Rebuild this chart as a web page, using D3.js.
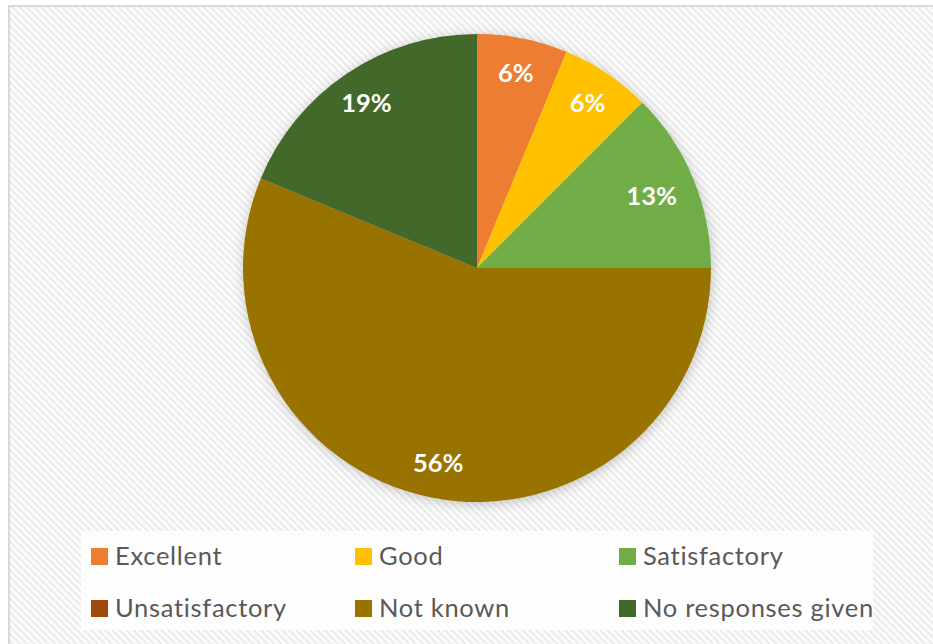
<!DOCTYPE html>
<html>
<head>
<meta charset="utf-8">
<script src="https://cdn.jsdelivr.net/npm/d3@7"></script>
<style>
  html, body { margin: 0; padding: 0; background: #ffffff; }
  svg { display: block; }
</style>
</head>
<body>
<div id="chart"></div>
<script>
// Survey responses (counts) by rating category
const categories = ["Excellent", "Good", "Satisfactory", "Unsatisfactory", "Not known", "No responses given"];
const counts = [1, 1, 2, 0, 9, 3];
const colors = ["#ED7D31", "#FFC000", "#70AD47", "#9E480E", "#997300", "#43682B"];

const W = 933, H = 644;
const cx = 477, cy = 268, R = 234;

const svg = d3.select("#chart").append("svg")
  .attr("width", W).attr("height", H);

const defs = svg.append("defs");

// Fine diagonal texture used for the chart area
const pat = defs.append("pattern")
  .attr("id", "diag")
  .attr("patternUnits", "userSpaceOnUse")
  .attr("width", 5).attr("height", 5)
  .attr("patternTransform", "rotate(45)");
pat.append("rect").attr("width", 5).attr("height", 5).attr("fill", "#fdfdfd");
pat.append("rect").attr("y", 0).attr("width", 5).attr("height", 2.3).attr("fill", "#ebebeb");

// Soft glow behind the pie
const glow = defs.append("filter").attr("id", "glow")
  .attr("x", "-20%").attr("y", "-20%").attr("width", "140%").attr("height", "140%");
glow.append("feGaussianBlur").attr("in", "SourceAlpha").attr("stdDeviation", 6).attr("result", "b");
glow.append("feOffset").attr("in", "b").attr("dx", 1).attr("dy", 2).attr("result", "o");
glow.append("feFlood").attr("flood-color", "#000").attr("flood-opacity", 0.22);
glow.append("feComposite").attr("in2", "o").attr("operator", "in").attr("result", "s");
const m = glow.append("feMerge");
m.append("feMergeNode").attr("in", "s");
m.append("feMergeNode").attr("in", "SourceGraphic");

// Chart area with border
svg.append("rect")
  .attr("x", 9).attr("y", 6)
  .attr("width", W + 10).attr("height", H + 10)
  .attr("fill", "url(#diag)")
  .attr("stroke", "#d9d9d9").attr("stroke-width", 2);

const total = d3.sum(counts);
const data = categories.map((c, i) => ({ name: c, value: counts[i], color: colors[i] }));

const pie = d3.pie().sort(null).value(d => d.value);
const arcs = pie(data);
const arc = d3.arc().innerRadius(0).outerRadius(R);
const labelArc = d3.arc().innerRadius(R * 0.85).outerRadius(R * 0.85);

const g = svg.append("g").attr("transform", `translate(${cx},${cy})`);

g.append("g").attr("filter", "url(#glow)")
  .selectAll("path")
  .data(arcs)
  .join("path")
  .attr("d", arc)
  .attr("fill", d => d.data.color);

g.selectAll("text.lbl")
  .data(arcs.filter(d => d.data.value > 0))
  .join("text")
  .attr("class", "lbl")
  .attr("transform", d => {
    const [x, y] = labelArc.centroid(d);
    // wider labels sit slightly further in from the rim
    const k = d.data.value / total > 0.1 && d.data.value / total < 0.15 ? 0.95 : 1;
    return `translate(${x * k},${y * k})`;
  })
  .attr("text-anchor", "middle")
  .attr("dy", "0.36em")
  .attr("fill", "#ffffff")
  .attr("font-family", "Lato, 'Open Sans', sans-serif")
  .attr("font-weight", "bold")
  .attr("font-size", 25.5)
  .text(d => Math.round(d.data.value / total * 100) + "%");

// Legend
const legend = svg.append("g");
legend.append("rect")
  .attr("x", 81).attr("y", 531).attr("width", 792).attr("height", 99)
  .attr("fill", "#ffffff").attr("fill-opacity", 0.85);

const colX = [91, 355, 619];
const rowY = [548, 600];
const items = legend.selectAll("g.item")
  .data(data)
  .join("g")
  .attr("class", "item")
  .attr("transform", (d, i) => `translate(${colX[i % 3]},${rowY[Math.floor(i / 3)]})`);

items.append("rect")
  .attr("width", 17).attr("height", 17)
  .attr("fill", d => d.color);

items.append("text")
  .attr("x", 24).attr("y", 17)
  .attr("fill", "#595959")
  .attr("font-family", "Lato, 'Open Sans', sans-serif")
  .attr("font-size", 25.5)
  .attr("letter-spacing", 0.7)
  .text(d => d.name);
</script>
</body>
</html>
